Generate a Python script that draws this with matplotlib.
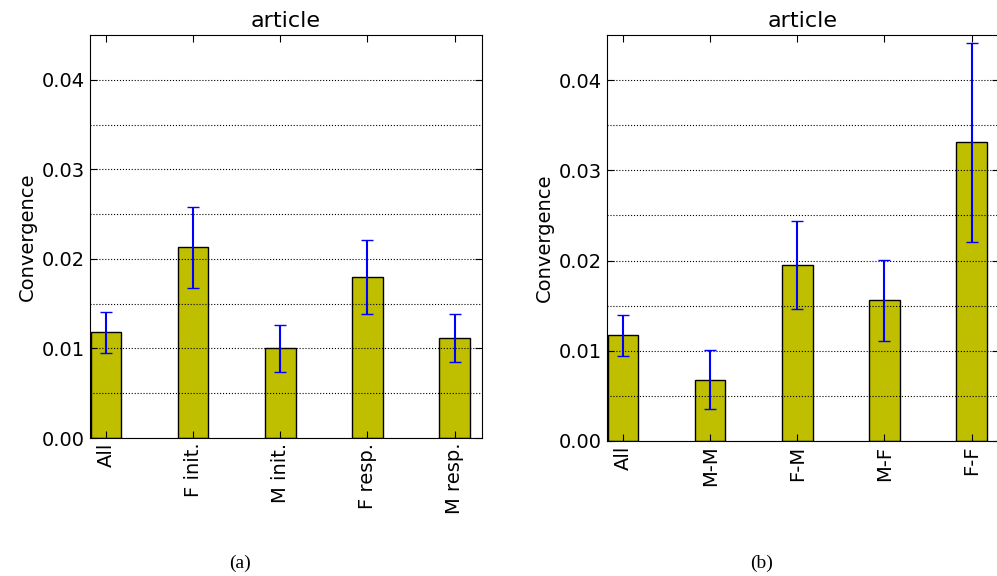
import matplotlib.pyplot as plt
import numpy as np

labels_a = ["All", "F init.", "M init.", "F resp.", "M resp."]
vals_a = [0.0118, 0.0213, 0.0100, 0.0180, 0.0112]
errs_a = [0.0023, 0.0045, 0.0026, 0.0041, 0.0027]

labels_b = ["All", "M-M", "F-M", "M-F", "F-F"]
vals_b = [0.0117, 0.0068, 0.0195, 0.0156, 0.0331]
errs_b = [0.0023, 0.0033, 0.0049, 0.0045, 0.0110]

fig = plt.figure(figsize=(9.97, 5.76), dpi=100)
W, H = 997, 576

def panel(rect, labels, vals, errs, caption, cx):
    ax = fig.add_axes(rect)
    x = np.arange(len(vals))
    ax.bar(x + 0.01, vals, 0.35, align="edge", color=(0.75, 0.75, 0), edgecolor="black")
    ax.errorbar(x + 0.185, vals, yerr=errs, fmt="none", ecolor="blue", capsize=4)
    ax.set_xlim(0, 4.5)
    ax.set_ylim(0, 0.045)
    ax.set_yticks(np.arange(0, 0.041, 0.01))
    ax.set_yticks(np.arange(0.005, 0.045, 0.01), minor=True)
    ax.yaxis.grid(True, which="both", linestyle=":", color="black", linewidth=0.8)
    ax.tick_params(axis="y", which="minor", length=0)
    ax.tick_params(direction="in", top=True, right=True, length=5)
    ax.set_xticks(x + 0.185)
    ax.set_xticklabels(labels, rotation=90, fontsize=14)
    ax.tick_params(axis="y", labelsize=14)
    ax.set_ylabel("Convergence", fontsize=14)
    ax.set_title("article", fontsize=16)
    fig.text(cx / W, 1 - 563 / H, caption, family="Liberation Serif", fontsize=14, ha="center", va="center")

panel([90 / W, 138 / H, 392 / W, 403 / H], labels_a, vals_a, errs_a, "(a)", 240)
panel([607 / W, 135 / H, 392 / W, 406 / H], labels_b, vals_b, errs_b, "(b)", 762)

fig.savefig("out.png", dpi=100)
